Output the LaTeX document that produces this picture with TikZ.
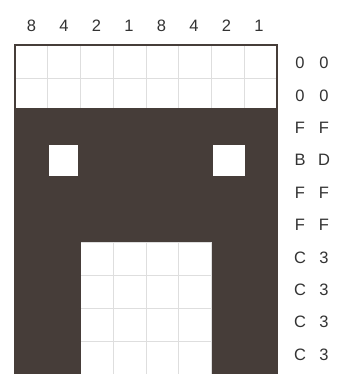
\documentclass[tikz,border=0pt]{standalone}
\usepackage{fontspec}
\setmainfont{Liberation Sans}
\definecolor{ink}{HTML}{463D39}
\definecolor{txt}{HTML}{333333}
\definecolor{gridc}{HTML}{DEDEDE}
\begin{document}
\begin{tikzpicture}[x=1pt,y=-1pt,
  lbl/.style={text=txt,font=\fontsize{16.5}{16.5}\selectfont,inner sep=0pt,anchor=center},
  gl/.style={draw=gridc,line width=0.7pt}]
\useasboundingbox (0,0) rectangle (342,374);
\fill[white] (0,0) rectangle (342,374);
% grid: origin (15,45), cell 32.75 x 32.9
\foreach \i in {1,...,7} \draw[gl] ({15+\i*32.75},45) -- ({15+\i*32.75},374);
\foreach \j in {1,...,9} \draw[gl] (15,{45+\j*32.9}) -- (277,{45+\j*32.9});
% dark pixels
\fill[ink] (15,108) rectangle (277,242.4);
\fill[ink] (15,242.4) rectangle (80.5,374);
\fill[ink] (211.5,242.4) rectangle (277,374);
% white pixels in row BD
\fill[white] (48.5,145) rectangle (77.5,175.5);
\fill[white] (212.5,145) rectangle (245,176);
% frame
\draw[ink,line width=1.3pt] (15,374) -- (15,45) -- (277,45) -- (277,374);
% top labels
\foreach \v [count=\k from 0] in {8,4,2,1,8,4,2,1}
  \node[lbl] (t\k) at ({31.5+\k*32.5},26) {\v};
% right labels
\foreach \a/\b [count=\r from 0] in {0/0,0/0,F/F,B/D,F/F,F/F,C/3,C/3,C/3,C/3}{
  \node[lbl] (h\r) at (300,{63+\r*32.4}) {\a};
  \node[lbl] (l\r) at (324,{63+\r*32.4}) {\b};
}
\end{tikzpicture}
\end{document}
